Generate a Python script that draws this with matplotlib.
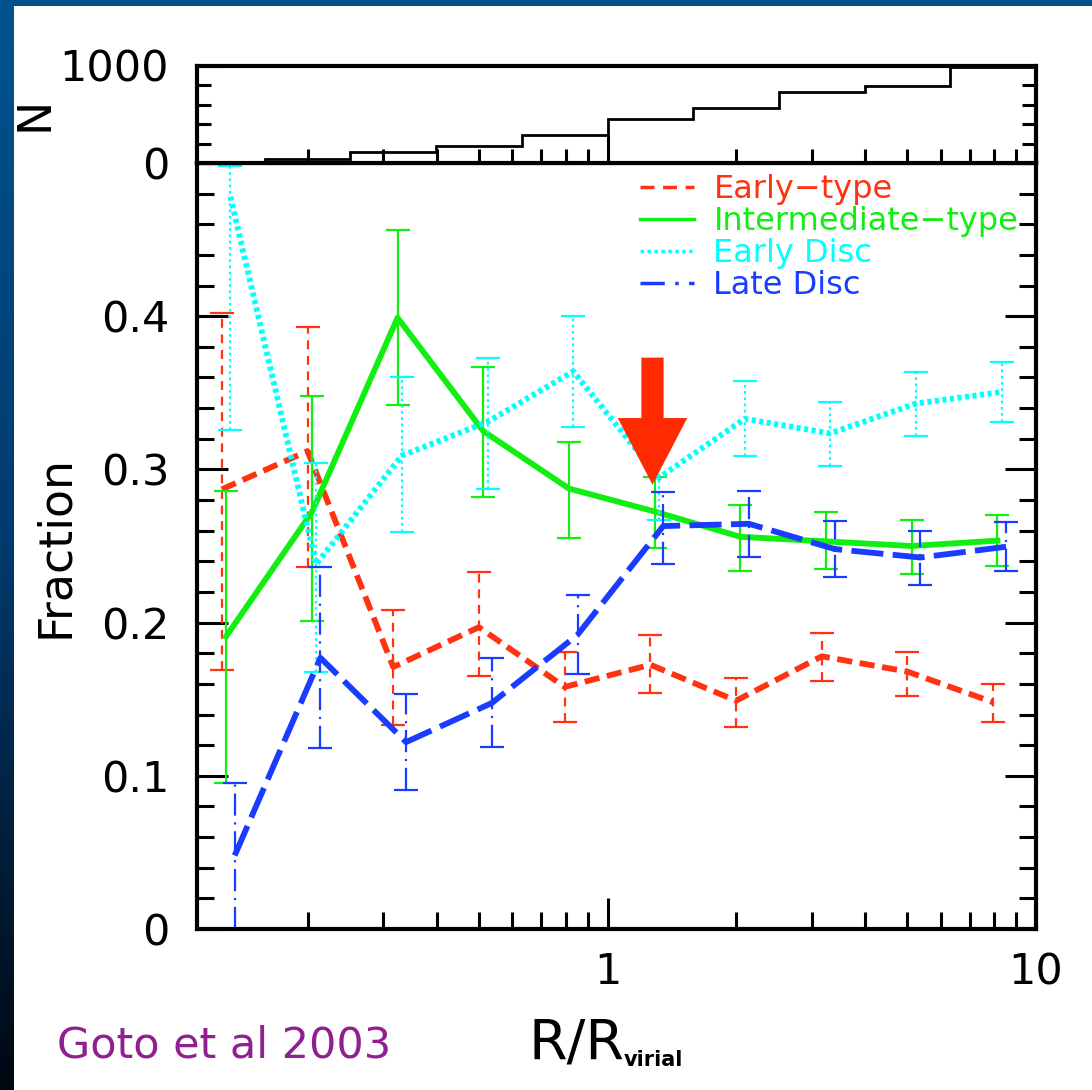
import numpy as np
import matplotlib
matplotlib.use('Agg')
import matplotlib.pyplot as plt
from matplotlib.ticker import FixedLocator, LogLocator, MultipleLocator, NullFormatter, FuncFormatter
from matplotlib.lines import Line2D
from matplotlib.patches import Rectangle

plt.rcParams['font.family'] = ['DejaVu Sans']

# bins in log10(R/Rvir)
hist_edges_log = [-1.0, -0.8, -0.6, -0.4, -0.2, 0.0, 0.2, 0.4, 0.6, 0.8, 1.0]
hist_n = [12, 38, 110, 175, 288, 449, 562, 727, 794, 983]
r_log = [-0.9, -0.7, -0.5, -0.3, -0.1, 0.1, 0.3, 0.5, 0.7, 0.9]

early = [0.287, 0.312, 0.171, 0.197, 0.158, 0.1725, 0.149, 0.178, 0.168, 0.148]
early_lo = [0.169, 0.236, 0.133, 0.165, 0.135, 0.154, 0.132, 0.162, 0.152, 0.135]
early_hi = [0.402, 0.393, 0.208, 0.233, 0.181, 0.192, 0.164, 0.193, 0.181, 0.160]

inter = [0.191, 0.272, 0.399, 0.325, 0.2875, 0.2725, 0.256, 0.253, 0.250, 0.2535]
inter_lo = [0.095, 0.201, 0.342, 0.282, 0.2555, 0.249, 0.234, 0.235, 0.232, 0.237]
inter_hi = [0.286, 0.348, 0.456, 0.367, 0.318, 0.295, 0.277, 0.272, 0.267, 0.270]

edisc = [0.478, 0.238, 0.309, 0.331, 0.364, 0.2945, 0.333, 0.3235, 0.343, 0.3505]
edisc_lo = [0.326, 0.168, 0.259, 0.287, 0.328, 0.267, 0.3085, 0.302, 0.322, 0.331]
edisc_hi = [0.498, 0.304, 0.360, 0.373, 0.400, 0.315, 0.3575, 0.344, 0.3635, 0.370]

ldisc = [0.048, 0.177, 0.122, 0.1475, 0.192, 0.263, 0.2645, 0.248, 0.2425, 0.2495]
ldisc_lo = [0.0, 0.118, 0.091, 0.119, 0.1665, 0.2385, 0.243, 0.2295, 0.2245, 0.234]
ldisc_hi = [0.0955, 0.236, 0.1535, 0.177, 0.218, 0.2855, 0.286, 0.266, 0.2595, 0.2655]

labels = ['Early\u2212type', 'Intermediate\u2212type', 'Early Disc', 'Late Disc']
colors = ['#ff3311', '#11ee11', '#00ffff', '#1a3cff']

W, H = 1092, 1090
fig = plt.figure(figsize=(W / 100, H / 100), dpi=100)

# slide background: blue bar on top, gradient strip on the left
bg = fig.add_axes([0, 0, 1, 1], zorder=-10)
bg.set_xlim(0, W)
bg.set_ylim(H, 0)
bg.axis('off')
grad = np.linspace(0, 1, 256).reshape(-1, 1)
cmap = matplotlib.colors.LinearSegmentedColormap.from_list('bgblue', ['#00548e', '#003a6e', '#000812'])
bg.imshow(grad, extent=(0, 14, H, 0), cmap=cmap, aspect='auto')
bg.add_patch(Rectangle((0, 0), W, 6, color='#00508a', lw=0))

left, right = 197, 1036
ax = fig.add_axes([left / W, 1 - 929 / H, (right - left) / W, (929 - 163) / H])
axt = fig.add_axes([left / W, 1 - 163 / H, (right - left) / W, 97.5 / H])

xmin, xmax = 10 ** -0.958, 10 ** 1.0

# top histogram
axt.stairs(hist_n, 10 ** np.array(hist_edges_log), color='black', lw=2.0)
axt.set_xscale('log')
axt.set_xlim(xmin, xmax)
axt.set_ylim(0, 1000)
axt.yaxis.set_major_locator(FixedLocator([0, 1000]))
axt.yaxis.set_minor_locator(MultipleLocator(200))
axt.xaxis.set_major_locator(FixedLocator([0.1, 1, 10]))
axt.xaxis.set_minor_locator(LogLocator(subs=np.arange(2, 10)))
axt.xaxis.set_major_formatter(NullFormatter())
axt.xaxis.set_minor_formatter(NullFormatter())
axt.tick_params(which='both', direction='in', top=False, right=True, width=2.2)
axt.tick_params(which='major', length=20, labelsize=31, pad=20)
axt.tick_params(which='minor', length=10)
axt.set_ylabel('N', fontsize=33, va='center')
axt.yaxis.set_label_coords(-0.193, 0.5)

series = [
    (early, early_lo, early_hi, 0.0, (2.6, 1.3), (0, (4, 3))),
    (inter, inter_lo, inter_hi, 0.01, None, 'solid'),
    (edisc, edisc_lo, edisc_hi, 0.02, (0.7, 0.6), (0, (1.2, 1.6))),
    (ldisc, ldisc_lo, ldisc_hi, 0.03, (5.5, 1.6), (0, (10, 3, 1, 3))),
]
leg_dashes = [(4, 2.5), None, (1, 1), (7, 3, 1, 3)]
handles = []
for (y, lo, hi, off, dash, eb_ls), c, ld in zip(series, colors, leg_dashes):
    x = 10 ** (np.array(r_log) + off)
    y = np.array(y)
    err = [y - np.array(lo), np.array(hi) - y]
    eb = ax.errorbar(x, y, yerr=err, fmt='none', ecolor=c, elinewidth=1.6,
                     capsize=8.5, capthick=1.6)
    eb[2][0].set_linestyle(eb_ls)
    if dash is None:
        ax.plot(x, y, color=c, lw=4.2)
        handles.append(Line2D([], [], color=c, lw=2.5))
    else:
        ax.plot(x, y, color=c, lw=4.2, dashes=dash)
        handles.append(Line2D([], [], color=c, lw=2.5, dashes=ld))

ax.set_xscale('log')
ax.set_xlim(xmin, xmax)
ax.set_ylim(0, 0.5)
ax.xaxis.set_major_locator(FixedLocator([0.1, 1, 10]))
ax.xaxis.set_minor_locator(LogLocator(subs=np.arange(2, 10)))
ax.xaxis.set_major_formatter(FuncFormatter(lambda v, _: f'{v:g}'))
ax.xaxis.set_minor_formatter(NullFormatter())
ax.yaxis.set_major_locator(FixedLocator([0, 0.1, 0.2, 0.3, 0.4, 0.5]))
ax.yaxis.set_minor_locator(MultipleLocator(0.02))
ax.yaxis.set_major_formatter(FuncFormatter(lambda v, _: '' if v > 0.45 else f'{v:g}'))
ax.tick_params(which='both', direction='in', top=False, right=True, width=2.2)
ax.tick_params(which='major', length=22, labelsize=31)
ax.tick_params(which='minor', length=12)
ax.tick_params(axis='x', which='major', pad=16)
ax.tick_params(axis='y', which='major', pad=20)
for a in (ax, axt):
    for s in a.spines.values():
        s.set_linewidth(3.0)

ax.set_ylabel('Fraction', fontsize=33, va='center')
ax.yaxis.set_label_coords(-0.169, 0.5)

# x label: R/R with a small bold "virial" subscript
fig.text(528 / W, 1 - 1058 / H, 'R/R', fontsize=40, ha='left', va='baseline')
fig.text(624 / W, 1 - 1066 / H, 'virial', fontsize=15, fontweight='bold',
         ha='left', va='baseline')

leg = ax.legend(handles, labels, loc='upper left', bbox_to_anchor=(0.528, 0.985),
                frameon=False, fontsize=23, labelcolor='linecolor', handlelength=1.7,
                handletextpad=0.6, labelspacing=0.03, borderpad=0, borderaxespad=0)

# red arrow pointing at the break around R ~ Rvir
ax.annotate('', xy=(10 ** 0.105, 0.290), xytext=(0, 91.5), textcoords='offset points',
            arrowprops=dict(arrowstyle='simple,head_length=4.8,head_width=5.0,tail_width=1.6',
                            mutation_scale=10, color='#ff2a00', shrinkA=0, shrinkB=0, lw=0),
            zorder=10)

fig.text(57 / W, 1 - 1045 / H, 'Goto et al 2003', fontsize=31, color='#902090',
         ha='left', va='center')

fig.savefig('out.png', dpi=100)
